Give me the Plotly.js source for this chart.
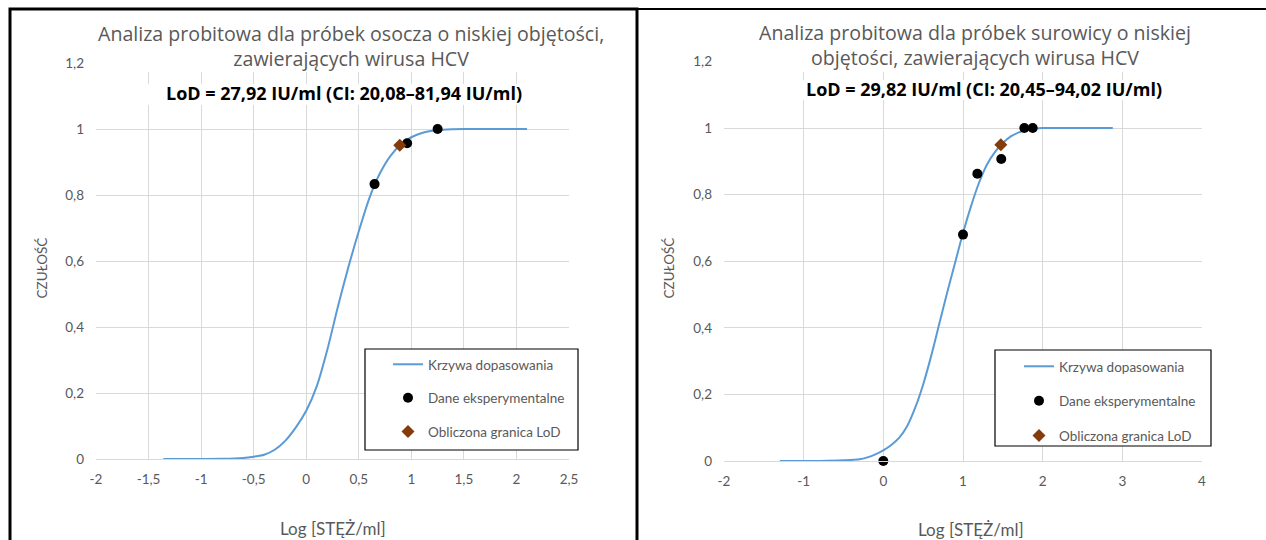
<!DOCTYPE html>
<html>
<head>
<meta charset="utf-8">
<script src="https://cdn.plot.ly/plotly-3.0.1.min.js"></script>
<style>html,body{margin:0;padding:0;background:#fff;}#chart{width:1266px;height:540px;}</style>
</head>
<body>
<div id="chart"></div>
<script>
// ---- data ----
const leftCurveX = [-1.36, -1.1, -0.8, -0.6, -0.5, -0.4, -0.3, -0.2, -0.1, 0, 0.1, 0.2, 0.3, 0.4, 0.5, 0.6, 0.7, 0.8, 0.9, 1.0, 1.1, 1.2, 1.3, 1.5, 1.8, 2.1];
const leftCurveY = [0, 0, 0.0005, 0.003, 0.007, 0.013, 0.028, 0.055, 0.095, 0.146, 0.22, 0.33, 0.46, 0.58, 0.69, 0.79, 0.865, 0.918, 0.953, 0.975, 0.988, 0.995, 0.998, 1, 1, 1];
const leftExpX = [0.65, 0.96, 1.25];
const leftExpY = [0.833, 0.957, 1.0];
const leftLodX = [0.89];
const leftLodY = [0.951];

const rightCurveX = [-1.3, -0.8, -0.5, -0.3, -0.2, -0.1, 0, 0.1, 0.2, 0.3, 0.4, 0.5, 0.6, 0.7, 0.8, 0.9, 1.0, 1.1, 1.2, 1.3, 1.4, 1.5, 1.6, 1.7, 1.8, 1.9, 2.0, 2.4, 2.88];
const rightCurveY = [0, 0.0003, 0.002, 0.005, 0.011, 0.02, 0.032, 0.048, 0.07, 0.105, 0.16, 0.23, 0.315, 0.41, 0.505, 0.595, 0.685, 0.765, 0.835, 0.89, 0.928, 0.955, 0.975, 0.987, 0.994, 0.998, 1, 1, 1];
const rightExpX = [0, 1.0, 1.18, 1.48, 1.77, 1.875];
const rightExpY = [0, 0.68, 0.863, 0.907, 1.0, 1.0];
const rightLodX = [1.475];
const rightLodY = [0.95];

const leftXTicks = [-2, -1.5, -1, -0.5, 0, 0.5, 1, 1.5, 2, 2.5];
const leftXTickText = ["-2", "-1,5", "-1", "-0,5", "0", "0,5", "1", "1,5", "2", "2,5"];
const rightXTicks = [-2, -1, 0, 1, 2, 3, 4];
const rightXTickText = ["-2", "-1", "0", "1", "2", "3", "4"];
const yTicks = [0, 0.2, 0.4, 0.6, 0.8, 1, 1.2];
const yTickText = ["0", "0,2", "0,4", "0,6", "0,8", "1", "1,2"];

const seriesNames = ["Krzywa dopasowania", "Dane eksperymentalne", "Obliczona granica LoD"];
const leftTitle = "Analiza probitowa dla próbek osocza o niskiej objętości,<br>zawierających wirusa HCV";
const rightTitle = "Analiza probitowa dla próbek surowicy o niskiej<br>objętości, zawierających wirusa HCV";
const leftLod = "LoD = 27,92 IU/ml (CI: 20,08–81,94 IU/ml)";
const rightLod = "LoD = 29,82 IU/ml (CI: 20,45–94,02 IU/ml)";
const xTitle = "Log [STĘŻ/ml]";
const yTitle = "CZUŁOŚĆ";

// ---- styling / layout ----
const W = 1266, H = 540;
const px = v => v / W;
const py = v => 1 - v / H;
const FONT = "Lato, 'Open Sans', sans-serif";
const TFONT = "'Open Sans', Lato, sans-serif";
const GREY = "#595959";
const BLUE = "#5B9BD5";
const BROWN = "#843C0C";

function traces(cx, cy, ex, ey, lx, ly, xa, ya, leg) {
  return [
    {x: cx, y: cy, xaxis: xa, yaxis: ya, type: 'scatter', mode: 'lines', name: seriesNames[0],
     line: {color: BLUE, width: 2, shape: 'spline', smoothing: 0.7}, legend: leg, legendgroup: leg + 'a', hoverinfo: 'skip'},
    {x: ex, y: ey, xaxis: xa, yaxis: ya, type: 'scatter', mode: 'markers', name: seriesNames[1], cliponaxis: false,
     marker: {color: '#000', size: 10, symbol: 'circle'}, legend: leg, legendgroup: leg + 'b'},
    {x: lx, y: ly, xaxis: xa, yaxis: ya, type: 'scatter', mode: 'markers', name: seriesNames[2], cliponaxis: false,
     marker: {color: BROWN, size: 10, symbol: 'diamond'}, legend: leg, legendgroup: leg + 'c'}
  ];
}

const data = [].concat(
  traces(leftCurveX, leftCurveY, leftExpX, leftExpY, leftLodX, leftLodY, 'x', 'y', 'legend'),
  traces(rightCurveX, rightCurveY, rightExpX, rightExpY, rightLodX, rightLodY, 'x2', 'y2', 'legend2')
);

const tickfont = {family: FONT, size: 13.5, color: GREY};
function xax(domain, range, tv, tt, anchor) {
  return {domain: domain, range: range, tickvals: tv, ticktext: tt, anchor: anchor,
    showgrid: true, gridcolor: '#d9d9d9', gridwidth: 1, zeroline: false,
    showline: true, linecolor: '#d9d9d9', linewidth: 1, ticks: '', tickfont: tickfont,
    ticklabelstandoff: 8, fixedrange: true};
}
function yax(domain, anchor) {
  return {domain: domain, range: [0, 1.2], tickvals: yTicks, ticktext: yTickText, anchor: anchor,
    showgrid: true, gridcolor: '#d9d9d9', gridwidth: 1, zeroline: false, showline: false,
    ticks: '', tickfont: tickfont, ticklabelstandoff: 11, fixedrange: true};
}

function legendCfg(xpx, ypx, gap) {
  return {x: px(xpx), y: py(ypx), xanchor: 'left', yanchor: 'top', xref: 'paper', yref: 'paper',
    bgcolor: 'rgba(0,0,0,0)', borderwidth: 0, tracegroupgap: gap, traceorder: 'grouped',
    font: {family: FONT, size: 13.5, color: GREY}};
}

function ann(text, x, y, size, color, bold, angle, fam) {
  return {text: bold ? '<b>' + text + '</b>' : text, x: px(x), y: py(y), xref: 'paper', yref: 'paper',
    xanchor: 'center', yanchor: 'middle', showarrow: false, textangle: angle || 0,
    font: {family: fam || FONT, size: size, color: color}};
}

function rect(x0, y0, x1, y1, fill, lineColor, lw) {
  return {type: 'rect', xref: 'paper', yref: 'paper', x0: px(x0), x1: px(x1), y0: py(y1), y1: py(y0),
    fillcolor: fill, line: {color: lineColor, width: lw}, layer: 'above'};
}

const layout = {
  width: W, height: H, margin: {l: 0, r: 0, t: 0, b: 0},
  paper_bgcolor: '#fff', plot_bgcolor: '#fff', showlegend: true,
  xaxis: xax([96 / W, 569 / W], [-2, 2.5], leftXTicks, leftXTickText, 'y'),
  yaxis: yax([1 - 459 / H, 1 - 63 / H], 'x'),
  xaxis2: xax([724 / W, 1202 / W], [-2, 4], rightXTicks, rightXTickText, 'y2'),
  yaxis2: yax([1 - 461 / H, 1 - 61.5 / H], 'x2'),
  legend: legendCfg(388, 349, 13),
  legend2: legendCfg(1019, 351, 14),
  shapes: [
    rect(88, 12, 578, 72, '#fff', 'rgba(0,0,0,0)', 0),
    rect(88, 84, 578, 105, '#fff', 'rgba(0,0,0,0)', 0),
    rect(716, 12, 1210, 72, '#fff', 'rgba(0,0,0,0)', 0),
    rect(716, 80, 1210, 100, '#fff', 'rgba(0,0,0,0)', 0),
    rect(365, 349, 578, 450, '#fff', '#000', 1.2),
    rect(995, 350, 1211, 446, '#fff', '#000', 1.2),
    rect(10, 9, 637, 560, 'rgba(0,0,0,0)', '#000', 3),
    {type: 'line', xref: 'paper', yref: 'paper', x0: px(637), x1: 1.01, y0: py(9), y1: py(9), line: {color: '#000', width: 2}, layer: 'above'}
  ],
  annotations: [
    ann(leftTitle, 351, 45.5, 19.6, GREY, false, 0, TFONT),
    ann(leftLod, 343.5, 93, 18, '#000', true, 0, TFONT),
    ann(rightTitle, 975, 45, 19.6, GREY, false, 0, TFONT),
    ann(rightLod, 984, 89, 18, '#000', true, 0, TFONT),
    ann(yTitle, 41.5, 268, 13.5, GREY, false, -90),
    ann(yTitle, 668.5, 268, 13.5, GREY, false, -90),
    ann(xTitle, 333, 528, 17, GREY),
    ann(xTitle, 971, 529, 17, GREY)
  ]
};

Plotly.newPlot('chart', data, layout, {staticPlot: true, displayModeBar: false});
</script>
</body>
</html>
